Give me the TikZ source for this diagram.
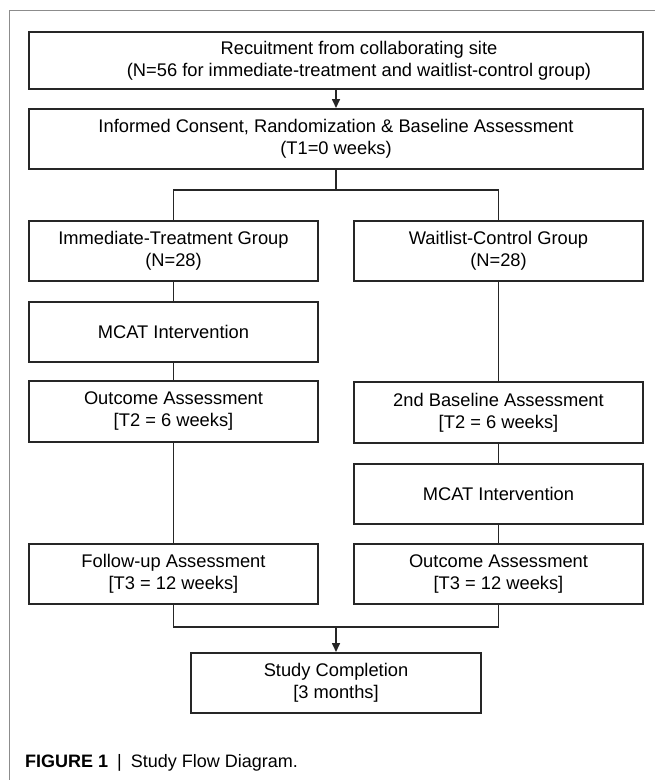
\documentclass[tikz,border=0pt]{standalone}
\usepackage{fontspec}
\setmainfont{Liberation Sans}
\usetikzlibrary{positioning,arrows.meta}

\begin{document}
\begin{tikzpicture}[x=1pt,y=1pt,
        box/.style={draw=black!85, line width=1.6pt, align=center, anchor=north, minimum height=60pt, inner sep=0pt,
                    font=\fontsize{18.3}{22}\selectfont},
        wide/.style={box, minimum width=614pt},
        half/.style={box, minimum width=289pt},
        link/.style={draw=black!85, line width=1.6pt},
        arr/.style={link, -{Triangle[length=9pt,width=8pt]}}]
    \useasboundingbox (0,0) rectangle (655,-780);
    \draw[black!45, line width=0.8pt] (9.5,-780) -- (9.5,-10.5) -- (655,-10.5);
    \node[wide, minimum height=57pt] (rec) at (336,-31) {\hspace*{46pt}Recuitment from collaborating site\\
                                                        \hspace*{46pt}(N=56 for immediate-treatment and waitlist-control group)};
    \node[wide] (cons) at (336,-108) {Informed Consent, Randomization \& Baseline Assessment\\(T1=0 weeks)};
    \node[half] (itg) at (173.5,-220) {Immediate-Treatment Group\\(N=28)};
    \node[half] (wcg) at (498.5,-220) {Waitlist-Control Group\\(N=28)};
    \node[half] (mcatL) at (173.5,-301) {MCAT Intervention};
    \node[half, minimum height=61pt] (outL) at (173.5,-380) {Outcome Assessment\\{[}T2 = 6 weeks{]}};
    \node[half, minimum height=61pt] (base) at (498.5,-381) {2nd Baseline Assessment\\{[}T2 = 6 weeks{]}};
    \node[half] (mcatR) at (498.5,-463) {MCAT Intervention};
    \node[half] (folL) at (173.5,-543) {Follow-up Assessment\\{[}T3 = 12 weeks{]}};
    \node[half] (outR) at (498.5,-543) {Outcome Assessment\\{[}T3 = 12 weeks{]}};
    \node[box, minimum width=290pt] (done) at (336,-652) {Study Completion\\{[}3 months{]}};
    \coordinate (split) at (336,-190);
    \coordinate (merge) at (336,-627);
    \draw[arr] (rec) -- (cons);
    \draw[link] (cons) -- (split);
    \draw[link] (itg) |- (split) -| (wcg);
    \draw[link] (itg) -- (mcatL);
    \draw[link] (mcatL) -- (outL);
    \draw[link] (outL) -- (folL);
    \draw[link] (wcg) -- (base);
    \draw[link] (base) -- (mcatR);
    \draw[link] (mcatR) -- (outR);
    \draw[link] (folL) |- (merge) -| (outR);
    \draw[arr] (merge) -- (done);
    \node[anchor=base west, inner sep=0pt, font=\fontsize{18}{22}\selectfont] (cap) at (25,-767)
        {\textbf{FIGURE 1}\hspace{9pt}|\hspace{9pt}Study Flow Diagram.};
\end{tikzpicture}
\end{document}
